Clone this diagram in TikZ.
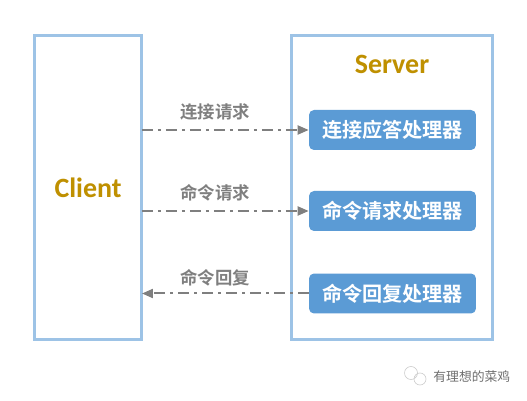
\documentclass[tikz,border=0pt]{standalone}
\usepackage{fontspec}
\usepackage{xcolor}
\usetikzlibrary{arrows.meta}
\newfontfamily\cjkbold[BoldFont={Noto Sans CJK SC Bold}]{Noto Sans CJK SC}
\newfontfamily\cjkmed{Noto Sans CJK SC}
\setmainfont{Carlito}
\definecolor{framblue}{HTML}{9DC3E6}
\definecolor{handlerblue}{HTML}{5B9BD5}
\definecolor{titlegold}{HTML}{BF9000}
\definecolor{linkgrey}{HTML}{7F7F7F}
\definecolor{markgrey}{HTML}{6E6E6E}

\begin{document}
\begin{tikzpicture}[x=0.02cm, y=-0.02cm]
  \useasboundingbox (0,0) rectangle (527,401);
  \tikzset{
    frame/.style={draw=framblue, line width=0.06cm, fill=white, anchor=north west,
                  inner sep=0pt, outer sep=0pt, minimum width=2.15cm},
    handler/.style={fill=handlerblue, rounded corners=0.1cm, minimum width=3.34cm,
                    minimum height=0.8cm, inner sep=0pt, text=white,
                    font=\fontsize{11.45}{13}\cjkbold\bfseries},
    title/.style={text=titlegold, font=\fontsize{15.9}{18}\bfseries, inner sep=0pt},
    msglab/.style={text=linkgrey, inner sep=0pt, font=\fontsize{9.9}{12}\cjkbold\bfseries},
    msgline/.style={draw=linkgrey, line width=0.04cm,
                    dash pattern=on 0.22cm off 0.1cm on 0.06cm off 0.1cm,
                    -{Triangle[length=0.22cm, width=0.18cm]}}}

  % the two frames
  \node[frame, minimum height=6.08cm] (client) at (34.5,35.5) {};
  \node[frame, minimum width=4.04cm, minimum height=6.08cm] (server) at (291,35.5) {};
  \node[title] (clientname) at (88,188) {Client};
  \node[title] (servername) at (392,64) {Server};

  % handlers inside the server
  \node[handler] (connect) at (392.5,130) {连接应答处理器};
  \node[handler] (request) at (392.5,211) {命令请求处理器};
  \node[handler] (reply)   at (392.5,293.5) {命令回复处理器};

  % messages
  \draw[msgline] (client.east |- connect) -- (connect.west);
  \draw[msgline] (client.east |- request) -- (request.west);
  \draw[msgline] (reply.west) -- (client.east |- reply);
  \node[msglab] (connectlab) at (215,112) {连接请求};
  \node[msglab] (requestlab) at (215,193) {命令请求};
  \node[msglab] (replylab)   at (215,278) {命令回复};

  % watermark
  \draw[markgrey!35, line width=0.012cm] (411,373) circle (6.5) (420,379) circle (6);
  \node[text=markgrey, inner sep=0pt, anchor=west, font=\fontsize{7.3}{9}\cjkmed] (mark) at (433,377) {有理想的菜鸡};
\end{tikzpicture}
\end{document}
